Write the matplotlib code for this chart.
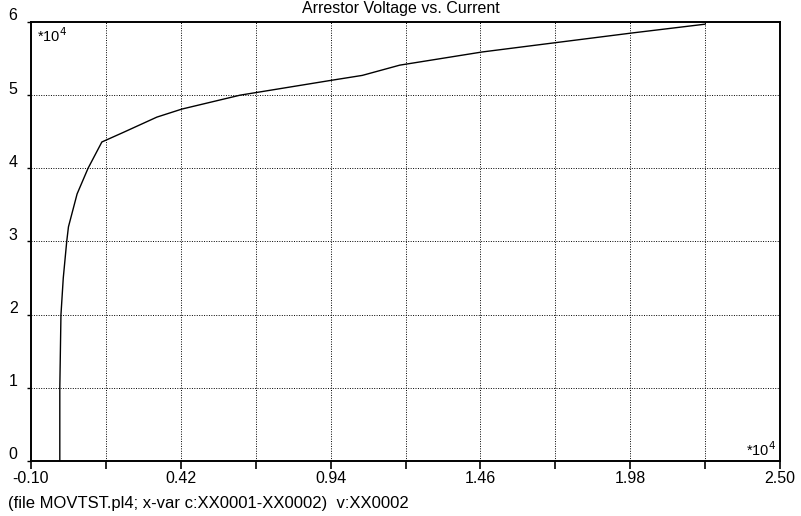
import numpy as np
import matplotlib
matplotlib.use("Agg")
import matplotlib.pyplot as plt

plt.rcParams['font.family'] = ['Liberation Sans', 'DejaVu Sans']

# current (*10^4 A) and voltage (*10^4 V)
current = [0.0, 0.0, 0.004, 0.012, 0.024, 0.03, 0.06, 0.098, 0.146, 0.22, 0.337,
           0.424, 0.626, 0.938, 1.05, 1.18, 1.466, 1.726, 1.987, 2.24]
voltage = [0.0, 1.0, 2.0, 2.5, 3.0, 3.2, 3.65, 4.0, 4.36, 4.49, 4.70,
           4.81, 5.0, 5.20, 5.27, 5.41, 5.59, 5.72, 5.85, 5.97]

x_ticks = [-0.10, 0.42, 0.94, 1.46, 1.98, 2.50]
x_grid = [-0.10, 0.16, 0.42, 0.68, 0.94, 1.20, 1.46, 1.72, 1.98, 2.24, 2.50]
y_ticks = [0, 1, 2, 3, 4, 5, 6]

title = "Arrestor Voltage vs. Current"
footer = "(file MOVTST.pl4; x-var c:XX0001-XX0002)  v:XX0002"

fig = plt.figure(figsize=(8.01, 5.16), dpi=100)
ax = fig.add_axes([0.0387, 0.1066, 0.9351, 0.8508])

ax.plot(current, voltage, color='black', lw=1.0)

ax.set_xlim(-0.10, 2.50)
ax.set_ylim(0, 6)

# grid
for gx in x_grid[1:-1]:
    ax.axvline(gx, color='black', lw=0.7, ls=(0, (1, 1.5)), zorder=0)
for gy in y_ticks[1:-1]:
    ax.axhline(gy, color='black', lw=0.7, ls=(0, (1, 1.5)), zorder=0)

ax.set_xticks(x_grid)
ax.set_xticklabels([f"{v:.2f}" if v in x_ticks else "" for v in x_grid])
ax.tick_params(axis='x', direction='out', length=6, width=1.2, labelsize=11.5, pad=1)
ax.set_yticks(y_ticks)
ax.set_yticklabels([])
ax.tick_params(axis='y', direction='out', length=3, width=1.0)

# y labels sit slightly above their grid lines
for v in y_ticks:
    ax.text(-0.018, v - 0.02, str(v), transform=ax.get_yaxis_transform(),
            ha='right', va='bottom', fontsize=11.5)

for s in ax.spines.values():
    s.set_linewidth(1.4)

ax.text(0.008, 0.99, "*10$^4$", transform=ax.transAxes, ha='left', va='top', fontsize=10.5)
ax.text(0.995, 0.005, "*10$^4$", transform=ax.transAxes, ha='right', va='bottom', fontsize=10.5)

fig.text(0.5, 0.999, title, ha='center', va='top', fontsize=11.5)
fig.text(0.01, 0.01, footer, ha='left', va='bottom', fontsize=12)

fig.savefig("out.png", dpi=100)
